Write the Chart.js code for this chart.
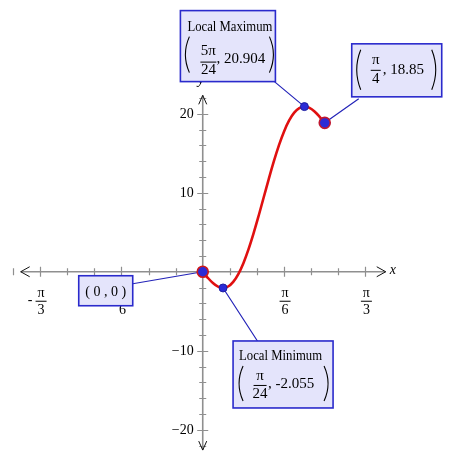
<!DOCTYPE html>
<html><head><meta charset="utf-8">
<script src="https://cdn.jsdelivr.net/npm/chart.js@4"></script>
<style>html,body{margin:0;padding:0;background:#fff}canvas{display:block}</style>
</head><body>
<canvas id="c" width="450" height="464"></canvas>
<script>
// ---- data ----
const curveX = [0, 0.0327, 0.0654, 0.0982, 0.1309, 0.1636, 0.1963, 0.2291, 0.2618, 0.2945, 0.3272, 0.3600, 0.3927,
  0.4254, 0.4581, 0.4909, 0.5236, 0.5563, 0.5890, 0.6218, 0.6545, 0.6872, 0.7199, 0.7527, 0.7854];
const curveY = [0, -0.768, -1.429, -1.886, -2.055, -1.869, -1.288, -0.298, 1.087, 2.826, 4.854, 7.087, 9.425,
  11.763, 13.996, 16.024, 17.763, 19.147, 20.137, 20.718, 20.904, 20.736, 20.279, 19.617, 18.850];
const keyX = [0, 0.1309, 0.6545, 0.7854];
const keyY = [0, -2.055, 20.904, 18.85];
const xTickVals = [-1.0472, -0.5236, 0.5236, 1.0472];
const xTickNum = ['π', 'π', 'π', 'π'];
const xTickDen = ['3', '6', '6', '3'];
const xTickNeg = [true, true, false, false];
const yTickVals = [-20, -10, 10, 20];
const yTickLabels = ['−20', '−10', '10', '20'];

const SERIF = '"Liberation Serif", "Times New Roman", serif';

function paren(ctx, x, top, bot, left) {
  const mid = (top + bot) / 2, d = left ? -5 : 5;
  ctx.beginPath();
  ctx.moveTo(x, top);
  ctx.quadraticCurveTo(x + d * 1.6, mid, x, bot);
  ctx.stroke();
}
function frac(ctx, cx, numBase, barY, denBase, num, den, w) {
  ctx.textAlign = 'center';
  ctx.textBaseline = 'alphabetic';
  ctx.fillText(num, cx, numBase);
  ctx.fillText(den, cx, denBase);
  ctx.beginPath();
  ctx.lineWidth = 1;
  ctx.moveTo(cx - w / 2, barY + 0.5);
  ctx.lineTo(cx + w / 2, barY + 0.5);
  ctx.stroke();
}
function box(ctx, bx, by, w, h) {
  ctx.fillStyle = '#e4e4fb';
  ctx.fillRect(bx, by, w, h);
  ctx.strokeStyle = '#2a2acc';
  ctx.lineWidth = 1.6;
  ctx.strokeRect(bx, by, w, h);
  ctx.fillStyle = '#000';
  ctx.strokeStyle = '#000';
}

const deco = {
  id: 'deco',
  beforeDatasetsDraw(chart) {
    const { ctx, scales: { x, y } } = chart;
    const X0 = x.getPixelForValue(0), Y0 = y.getPixelForValue(0);
    ctx.save();
    // axis lines
    ctx.strokeStyle = '#8f8f8f';
    ctx.lineWidth = 1.6;
    ctx.beginPath();
    ctx.moveTo(x.getPixelForValue(-1.172), Y0); ctx.lineTo(x.getPixelForValue(1.178), Y0);
    ctx.moveTo(X0, y.getPixelForValue(22.33)); ctx.lineTo(X0, y.getPixelForValue(-22.58));
    ctx.stroke();
    // ticks
    ctx.lineWidth = 1.2;
    ctx.beginPath();
    for (let k = -7; k <= 6; k++) {
      if (k === 0) continue;
      const px = Math.round(x.getPixelForValue(k * Math.PI / 18)) + 0.5;
      const L = (k % 3 === 0) ? 5 : 3.5;
      ctx.moveTo(px, Y0 - L); ctx.lineTo(px, Y0 + L);
    }
    for (let v = -22; v <= 22; v += 2) {
      if (v === 0) continue;
      const py = Math.round(y.getPixelForValue(v)) + 0.5;
      const L = (v % 10 === 0) ? 5.5 : 3.5;
      ctx.moveTo(X0 - L, py); ctx.lineTo(X0 + L, py);
    }
    ctx.stroke();
    // arrow heads
    ctx.strokeStyle = '#111';
    ctx.lineWidth = 1;
    const xl = x.getPixelForValue(-1.172), xr = x.getPixelForValue(1.178);
    const yt = y.getPixelForValue(22.33), yb = y.getPixelForValue(-22.58);
    ctx.beginPath();
    ctx.moveTo(xl + 9, Y0 - 5); ctx.lineTo(xl, Y0); ctx.lineTo(xl + 9, Y0 + 5);
    ctx.moveTo(xr - 9, Y0 - 5); ctx.lineTo(xr, Y0); ctx.lineTo(xr - 9, Y0 + 5);
    ctx.moveTo(X0 - 4, yt + 9); ctx.lineTo(X0, yt); ctx.lineTo(X0 + 4, yt + 9);
    ctx.moveTo(X0 - 4, yb - 9); ctx.lineTo(X0, yb); ctx.lineTo(X0 + 4, yb - 9);
    ctx.stroke();
    // axis names
    ctx.fillStyle = '#000';
    ctx.font = 'italic 14px ' + SERIF;
    ctx.textAlign = 'left'; ctx.textBaseline = 'middle';
    ctx.fillText('x', xr + 4, Y0 - 1);
    ctx.textAlign = 'center'; ctx.textBaseline = 'alphabetic';
    ctx.fillText('y', X0 - 2, yt - 11);
    // y tick labels
    ctx.font = '14px ' + SERIF;
    ctx.textAlign = 'right'; ctx.textBaseline = 'middle';
    yTickVals.forEach((v, i) => ctx.fillText(yTickLabels[i], X0 - 9, y.getPixelForValue(v) + 1));
    // x tick labels (fractions)
    ctx.strokeStyle = '#000';
    xTickVals.forEach((v, i) => {
      const cx = x.getPixelForValue(v) + 1;
      ctx.font = '14px ' + SERIF;
      frac(ctx, cx, Y0 + 25, Y0 + 29, Y0 + 42, xTickNum[i], xTickDen[i], 11);
      if (xTickNeg[i]) { ctx.textAlign = 'center'; ctx.textBaseline = 'middle'; ctx.fillText('-', cx - 11, Y0 + 29); }
    });
    // leader lines
    const P = keyX.map((v, i) => [x.getPixelForValue(v), y.getPixelForValue(keyY[i])]);
    ctx.strokeStyle = '#2323b8';
    ctx.lineWidth = 1.2;
    ctx.beginPath();
    ctx.moveTo(P[0][0], P[0][1]); ctx.lineTo(P[0][0] - 70, P[0][1] + 12);
    ctx.moveTo(P[1][0], P[1][1]); ctx.lineTo(P[1][0] + 35, P[1][1] + 54);
    ctx.moveTo(P[2][0], P[2][1]); ctx.lineTo(P[2][0] - 30, P[2][1] - 25);
    ctx.moveTo(P[3][0], P[3][1]); ctx.lineTo(P[3][0] + 34, P[3][1] - 24);
    ctx.stroke();
    ctx.restore();
  },
  afterDatasetsDraw(chart) {
    const { ctx, scales: { x, y } } = chart;
    const P = keyX.map((v, i) => [x.getPixelForValue(v), y.getPixelForValue(keyY[i])]);
    const TITLE = '15px ' + SERIF, BODY = '15px ' + SERIF;
    ctx.save();
    // (0,0)
    let bx = P[0][0] - 124, by = P[0][1] + 4;
    box(ctx, bx, by, 54, 30);
    ctx.font = '14px ' + SERIF;
    ctx.textAlign = 'center'; ctx.textBaseline = 'alphabetic';
    ctx.fillText('( 0 , 0 )', bx + 27, by + 20);
    // Local Minimum
    bx = P[1][0] + 10; by = P[1][1] + 53;
    box(ctx, bx, by, 100, 67);
    ctx.font = TITLE;
    ctx.textAlign = 'left';
    ctx.fillText('Local Minimum', bx + 6, by + 19, 83);
    ctx.font = BODY;
    ctx.lineWidth = 1.1;
    paren(ctx, bx + 10, by + 25, by + 60, true);
    paren(ctx, bx + 91, by + 25, by + 60, false);
    frac(ctx, bx + 27, by + 39, by + 44, by + 57, 'π', '24', 13);
    ctx.textAlign = 'left';
    ctx.fillText(', -2.055', bx + 35, by + 47, 51);
    // Local Maximum
    bx = P[2][0] - 124; by = P[2][1] - 96;
    box(ctx, bx, by, 95, 71);
    ctx.font = TITLE;
    ctx.textAlign = 'left';
    ctx.fillText('Local Maximum', bx + 7, by + 20, 85);
    ctx.font = BODY;
    ctx.lineWidth = 1.1;
    paren(ctx, bx + 9, by + 26, by + 62, true);
    paren(ctx, bx + 89, by + 26, by + 62, false);
    frac(ctx, bx + 28, by + 44, by + 51, by + 63, '5π', '24', 16);
    ctx.textAlign = 'left';
    ctx.fillText(', 20.904', bx + 36, by + 52, 51);
    // endpoint
    bx = P[3][0] + 27; by = P[3][1] - 79;
    box(ctx, bx, by, 90, 53);
    ctx.lineWidth = 1.1;
    paren(ctx, bx + 9, by + 6, by + 46, true);
    paren(ctx, bx + 80, by + 6, by + 46, false);
    frac(ctx, bx + 24, by + 20, by + 26, by + 39, 'π', '4', 10);
    ctx.textAlign = 'left';
    ctx.fillText(', 18.85', bx + 31, by + 30);
    ctx.restore();
  }
};

new Chart(document.getElementById('c'), {
  type: 'line',
  data: {
    datasets: [
      {
        data: curveX.map((v, i) => ({ x: v, y: curveY[i] })),
        borderColor: '#e01010', borderWidth: 2.6, pointRadius: 0, tension: 0.35, fill: false, order: 2
      },
      {
        type: 'scatter',
        data: keyX.map((v, i) => ({ x: v, y: keyY[i] })),
        backgroundColor: '#2b2bd6',
        borderColor: ['#d01818', '#2020a0', '#2020a0', '#c01830'],
        borderWidth: [1.6, 1, 1, 1.6],
        pointRadius: [5.5, 4, 4, 5.5],
        order: 1
      }
    ]
  },
  options: {
    responsive: false, animation: false, devicePixelRatio: 1,
    layout: { padding: 0 },
    plugins: { legend: { display: false }, tooltip: { enabled: false } },
    scales: {
      x: { type: 'linear', min: -1.2594, max: 1.5461, display: false },
      y: { type: 'linear', min: -23.44, max: 33.50, display: false }
    }
  },
  plugins: [deco]
});
</script>
</body></html>
